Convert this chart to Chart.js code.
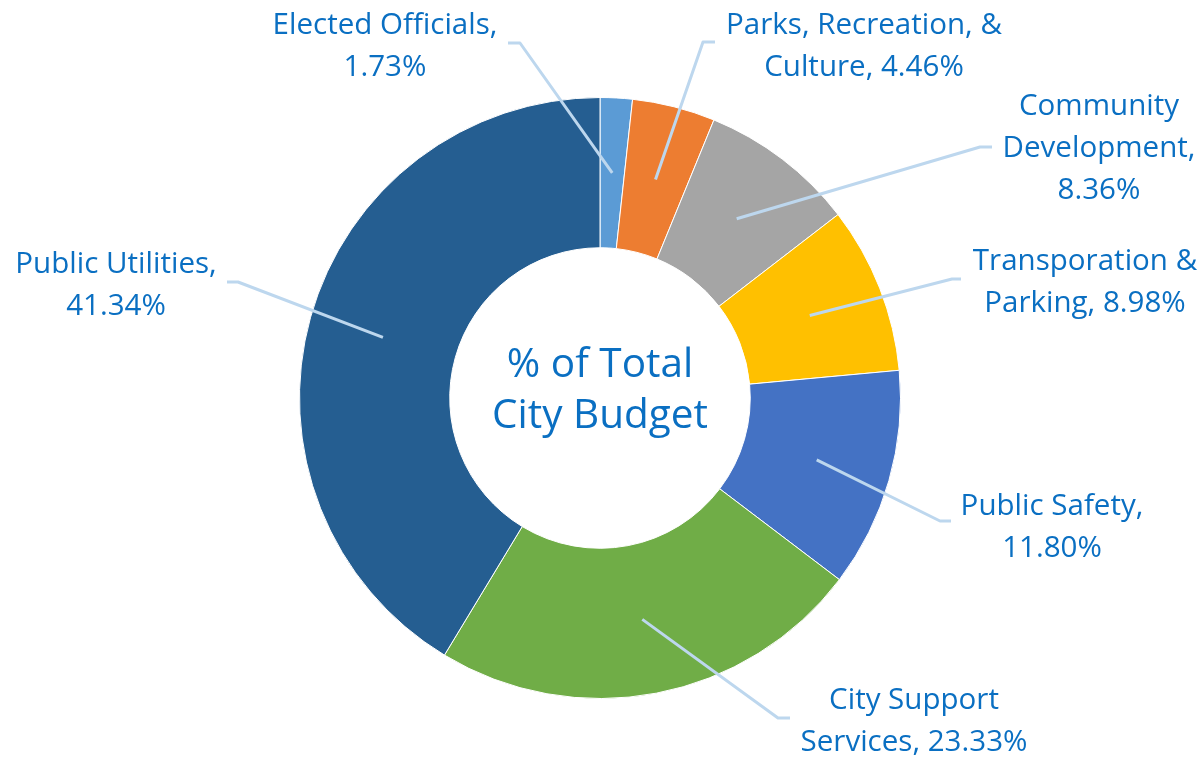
<!DOCTYPE html>
<html>
<head>
<meta charset="utf-8">
<script src="https://cdn.jsdelivr.net/npm/chart.js@4"></script>
<style>
  html, body { margin: 0; padding: 0; background: #ffffff; }
  #wrap { width: 1203px; height: 758px; position: relative; }
</style>
</head>
<body>
<div id="wrap"><canvas id="c" width="1203" height="758"></canvas></div>
<script>
// ---- data ----
const categories = [
  "Elected Officials",
  "Parks, Recreation, & Culture",
  "Community Development",
  "Transporation & Parking",
  "Public Safety",
  "City Support Services",
  "Public Utilities"
];
const shares = [1.73, 4.46, 8.36, 8.98, 11.80, 23.33, 41.34];
const labelLines = [
  ["Elected Officials,", "{v}"],
  ["Parks, Recreation, &", "Culture, {v}"],
  ["Community", "Development,", "{v}"],
  ["Transporation &", "Parking, {v}"],
  ["Public Safety,", "{v}"],
  ["City Support", "Services, {v}"],
  ["Public Utilities,", "{v}"]
];
const centerTitle = ["% of Total", "City Budget"];

// ---- styles / layout ----
const sliceColors = ["#5B9BD5", "#ED7D31", "#A5A5A5", "#FFC000", "#4472C4", "#70AD47", "#255E91"];
const textColor = "#0A6FC2";
const leaderColor = "#BDD7EE";
const fontFamily = "'Open Sans', 'Noto Sans', sans-serif";
// label block: centre x, first-line y, elbow point, end of horizontal stub
const labelLayout = [
  { x: 385,  y: 26,  elbow: [520, 43],  stub: [508, 43] },
  { x: 864,  y: 26,  elbow: [703, 42],  stub: [715, 42] },
  { x: 1099, y: 107, elbow: [980, 147], stub: [992, 147] },
  { x: 1085, y: 262, elbow: [952, 279], stub: [961, 279] },
  { x: 1052, y: 507, elbow: [940, 521], stub: [951, 521] },
  { x: 914,  y: 701, elbow: [778, 718], stub: [790, 718] },
  { x: 116,  y: 265, elbow: [238, 282], stub: [227, 282] }
];

function fitSize(ctx, text, targetW, weight) {
  ctx.font = (weight || "") + " 100px " + fontFamily;
  const w = ctx.measureText(text).width;
  return 100 * targetW / w;
}

const labelsPlugin = {
  id: "leaderLabels",
  afterDatasetsDraw(chart) {
    const ctx = chart.ctx;
    const meta = chart.getDatasetMeta(0);
    const labelSize = fitSize(ctx, "Elected Officials,", 225);
    const centerSize = fitSize(ctx, "City Budget", 216);
    ctx.save();
    // leader lines
    meta.data.forEach((arc, i) => {
      const p = arc.getCenterPoint();
      const L = labelLayout[i];
      ctx.beginPath();
      ctx.moveTo(p.x, p.y);
      ctx.lineTo(L.elbow[0], L.elbow[1]);
      ctx.lineTo(L.stub[0], L.stub[1]);
      ctx.strokeStyle = leaderColor;
      ctx.lineWidth = 3;
      ctx.lineJoin = "round";
      ctx.stroke();
    });
    // labels
    ctx.fillStyle = textColor;
    ctx.textAlign = "center";
    ctx.textBaseline = "middle";
    ctx.font = labelSize.toFixed(2) + "px " + fontFamily;
    labelLines.forEach((lines, i) => {
      const L = labelLayout[i];
      const v = shares[i].toFixed(2) + "%";
      lines.forEach((ln, k) => {
        ctx.fillText(ln.replace("{v}", v), L.x, L.y + k * 42);
      });
    });
    // centre title
    const cx = (chart.chartArea.left + chart.chartArea.right) / 2;
    const cy = (chart.chartArea.top + chart.chartArea.bottom) / 2;
    ctx.font = centerSize.toFixed(2) + "px " + fontFamily;
    ctx.fillText(centerTitle[0], cx, cy - 33);
    ctx.fillText(centerTitle[1], cx, cy + 18);
    ctx.restore();
  }
};

new Chart(document.getElementById("c"), {
  type: "doughnut",
  data: {
    labels: categories,
    datasets: [{
      data: shares,
      backgroundColor: sliceColors,
      borderColor: "#ffffff",
      borderWidth: 1
    }]
  },
  options: {
    responsive: false,
    animation: false,
    cutout: "50%",
    layout: { padding: { top: 97, bottom: 59, left: 0, right: 3 } },
    plugins: {
      legend: { display: false },
      tooltip: { enabled: false }
    }
  },
  plugins: [labelsPlugin]
});
</script>
</body>
</html>
